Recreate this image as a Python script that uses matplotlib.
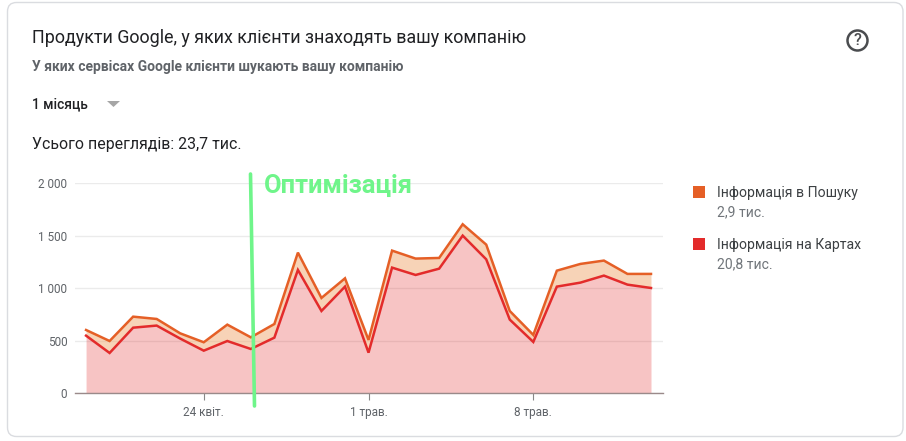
import matplotlib
matplotlib.use("Agg")
import matplotlib.pyplot as plt
from matplotlib.patches import FancyBboxPatch, Circle, Polygon, Rectangle
import pandas as pd

plt.rcParams['font.family'] = ['Roboto', 'DejaVu Sans']

# --- Data ---
DATES = pd.date_range("2021-04-19", "2021-05-13")
SEARCH_TOP = [603, 498, 730, 708, 571, 486, 654, 533, 660, 1340, 908, 1095, 508,
              1359, 1283, 1289, 1610, 1416, 784, 556, 1168, 1232, 1264, 1137, 1137]
MAPS = [549, 384, 625, 645, 521, 406, 498, 422, 530, 1175, 784, 1016, 387,
        1197, 1127, 1187, 1502, 1276, 702, 489, 1016, 1054, 1121, 1035, 1003]
Y_TICKS = [0, 500, 1000, 1500, 2000]
Y_LABELS = ["0", "500", "1 000", "1 500", "2 000"]
X_TICKS = pd.to_datetime(["2021-04-24", "2021-05-01", "2021-05-08"])
X_LABELS = ["24 квіт.", "1 трав.", "8 трав."]

W, H = 906, 441
ORANGE = "#e55f26"
RED = "#e32b2b"

fig = plt.figure(figsize=(W / 100, H / 100), dpi=100, facecolor="white")

# --- Card, in pixel coordinates ---
bg = fig.add_axes([0, 0, 1, 1])
bg.set_xlim(0, W)
bg.set_ylim(H, 0)
bg.axis("off")
bg.add_patch(FancyBboxPatch((7.5, 2.5), 895.5, 434, boxstyle="round,pad=0,rounding_size=9",
                            fc="white", ec="#dadce0", lw=1))

bg.text(32, 38, "Продукти Google, у яких клієнти знаходять вашу компанію",
        fontsize=12.85, color="#202124", va="center")
bg.text(32, 66.5, "У яких сервісах Google клієнти шукають вашу компанію",
        fontsize=10, color="#5f6368", va="center", fontweight="bold")
bg.text(32, 104.5, "1 місяць", fontsize=9.9, color="#202124", va="center", fontweight="medium")
bg.add_patch(Polygon([(107, 101), (120, 101), (113.5, 107)], fc="#a6a6a6", ec="none"))
bg.text(32, 144.5, "Усього переглядів: 23,7 тис.", fontsize=11.4, color="#202124", va="center")

# help icon
bg.add_patch(Circle((857.5, 40.5), 10, fc="none", ec="#4a4c4f", lw=1.8))
bg.text(857.5, 40.5, "?", fontsize=11.5, color="#4a4c4f", ha="center", va="center",
        fontweight="medium")

# legend
bg.add_patch(Rectangle((693, 186), 12, 12, fc=ORANGE, ec="none"))
bg.text(717, 192.5, "Інформація в Пошуку", fontsize=10.05, color="#3c4043", va="center")
bg.text(717, 212.5, "2,9 тис.", fontsize=10.05, color="#70757a", va="center")
bg.add_patch(Rectangle((693, 238), 12, 12, fc=RED, ec="none"))
bg.text(717, 244.5, "Інформація на Картах", fontsize=10.05, color="#3c4043", va="center")
bg.text(717, 264.5, "20,8 тис.", fontsize=10.05, color="#70757a", va="center")

# --- Chart ---
left, right = 75, 663
y_top, y_zero = 183.3, 393.3
ax = fig.add_axes([left / W, 1 - y_zero / H, (right - left) / W, (y_zero - y_top) / H])
ax.patch.set_alpha(0)
ax.set_xlim(DATES[0] - pd.Timedelta(days=0.47), DATES[-1] + pd.Timedelta(days=0.51))
ax.set_ylim(0, 2000)

ax.fill_between(DATES, MAPS, SEARCH_TOP, color="#f0a870", alpha=0.5, lw=0, zorder=2)
ax.fill_between(DATES, 0, MAPS, color="#e32b2b", alpha=0.28, lw=0, zorder=2)
ax.plot(DATES, SEARCH_TOP, color=ORANGE, lw=1.8, zorder=3, solid_joinstyle="miter")
ax.plot(DATES, MAPS, color=RED, lw=1.8, zorder=3, solid_joinstyle="miter")

ax.set_yticks(Y_TICKS, Y_LABELS)
ax.set_xticks(X_TICKS, X_LABELS)
ax.grid(axis="y", color="#ebebeb", lw=1, zorder=1)
ax.set_axisbelow(True)
for name in ["top", "right", "left"]:
    ax.spines[name].set_visible(False)
ax.spines["bottom"].set_color("#9a8a8a")
ax.spines["bottom"].set_linewidth(1)
ax.tick_params(axis="y", length=0, pad=5.5, labelsize=8.5, labelcolor="#5f6368")
ax.tick_params(axis="x", length=5, width=0.8, color="#888888", pad=4.5, labelsize=8.5,
               labelcolor="#5f6368")

# --- Hand-drawn annotation on top ---
top = fig.add_axes([0, 0, 1, 1])
top.set_xlim(0, W)
top.set_ylim(H, 0)
top.axis("off")
top.plot([250.5, 254.5], [174, 406], color="#6ff58a", lw=2.6, solid_capstyle="round")
top.text(264, 185.5, "Оптимізація", fontsize=18.4, color="#6ff58a", va="center", fontweight="bold")

fig.savefig("out.png", dpi=100)
